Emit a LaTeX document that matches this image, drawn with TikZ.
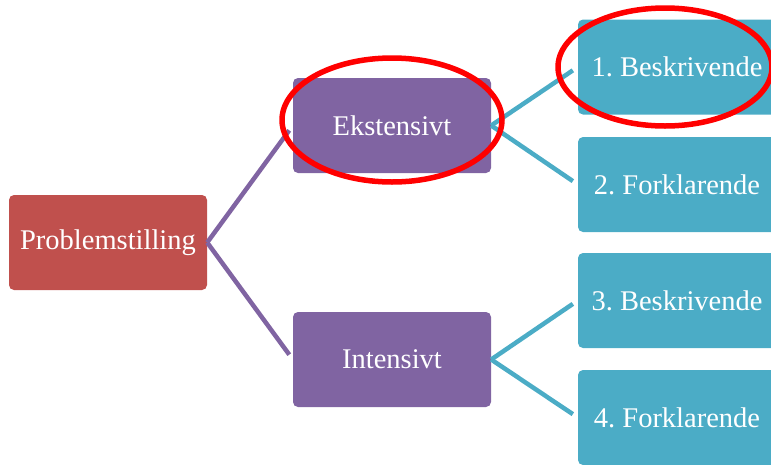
\documentclass[tikz,border=0pt]{standalone}
\usepackage{fontspec}
\setmainfont{Liberation Serif}
\definecolor{probred}{HTML}{C0504D}
\definecolor{levpurple}{HTML}{8064A2}
\definecolor{leafblue}{HTML}{4BACC6}
\frenchspacing
\begin{document}
\begin{tikzpicture}[x=1pt,y=-1pt]
    % size of each box
    \def\bw{198pt}
    \def\bh{95pt}
    % box style definition
    \tikzstyle{block} = [
    	rectangle, rounded corners=5pt, inner sep=0pt,
    	minimum width=\bw, minimum height=\bh,
    	text=white, font=\fontsize{28.5}{34}\selectfont ];
    \tikzstyle{rootbox} = [block, fill=probred];
    \tikzstyle{midbox} = [block, fill=levpurple];
    \tikzstyle{leafbox} = [block, fill=leafblue];
    \tikzstyle{midlink} = [draw=levpurple, line width=4.5pt, shorten >=6pt];
    \tikzstyle{leaflink} = [draw=leafblue, line width=4.5pt, shorten >=6pt];
    \tikzstyle{ring} = [draw=red, line width=5.5pt];
    \clip (0,0) rectangle (771,464);
    \node[rootbox] (prob) at (108,242.5) { Problemstilling };
    \node[midbox] (ekst) at (392,125.5) { Ekstensivt };
    \node[midbox] (inte) at (392,359.5) { Intensivt };
    % leaf boxes
    \foreach \n/\y/\txt in {b1/67/{1. Beskrivende}, b2/184.5/{2. Forklarende},
    	b3/300.5/{3. Beskrivende}, b4/417.5/{4. Forklarende}}
    {
    	\node[leafbox] (\n) at (677,\y) { \txt };
    }
    \draw[midlink] (prob.east) -- (ekst.west);
    \draw[midlink] (prob.east) -- (inte.west);
    \draw[leaflink] (ekst.east) -- (b1.west);
    \draw[leaflink] (ekst.east) -- (b2.west);
    \draw[leaflink] (inte.east) -- (b3.west);
    \draw[leaflink] (inte.east) -- (b4.west);
    % red marks
    \draw[ring] ([yshift=5.5pt]ekst.center) ellipse [x radius=110pt, y radius=62pt];
    \draw[ring] ([xshift=-12pt]b1.center) ellipse [x radius=107pt, y radius=59pt];
  \end{tikzpicture}
\end{document}
